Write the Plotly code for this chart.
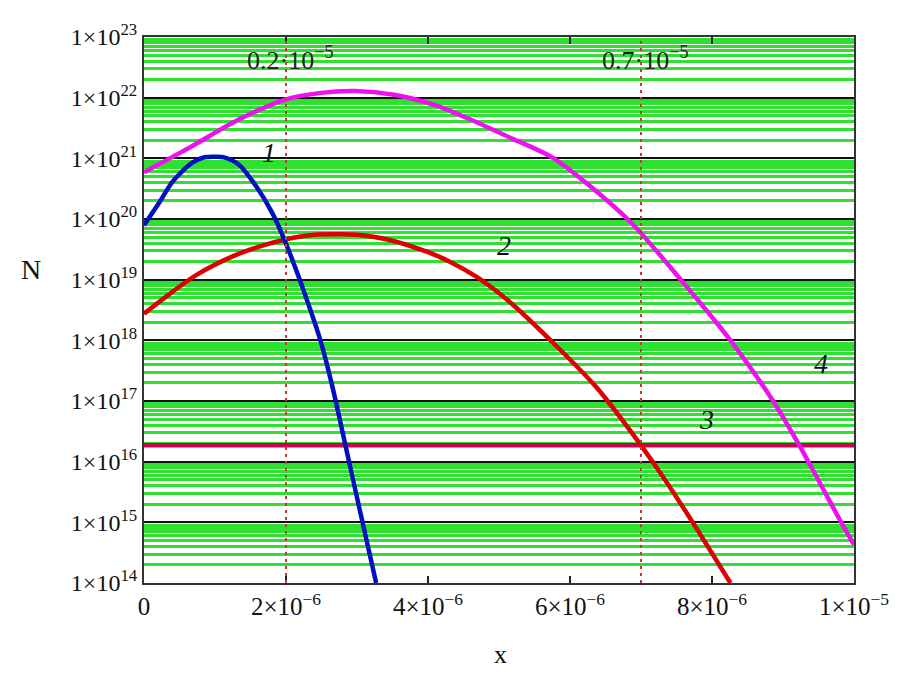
import math
import plotly.graph_objects as go

# ---- data ----
x1 = [0, 0.22e-6, 0.40e-6, 0.68e-6, 0.85e-6, 1.0e-6, 1.13e-6, 1.34e-6, 1.57e-6, 1.80e-6,
      1.99e-6, 2.27e-6, 2.49e-6, 2.66e-6, 2.84e-6, 3.05e-6, 3.27e-6]
n1 = [7.9e19, 1.9e20, 4.1e20, 8.5e20, 1.04e21, 1.06e21, 1.04e21, 7.8e20, 3.6e20, 1.3e20,
      4.2e19, 5.6e18, 9.5e17, 1.6e17, 1.8e16, 1.4e15, 1.0e14]

x2 = [0, 0.40e-6, 0.74e-6, 1.24e-6, 1.62e-6, 1.99e-6, 2.4e-6, 2.75e-6, 3.0e-6, 3.43e-6,
      3.98e-6, 4.3e-6, 4.68e-6, 5.14e-6, 5.84e-6, 6.35e-6, 6.53e-6, 7.0e-6, 7.33e-6,
      7.74e-6, 8.26e-6]
n2 = [2.75e18, 6.3e18, 1.2e19, 2.4e19, 3.5e19, 4.6e19, 5.5e19, 5.6e19, 5.5e19, 4.6e19,
      2.9e19, 2.0e19, 1.12e19, 4.4e18, 7.4e17, 1.8e17, 1.0e17, 1.86e16, 5.2e15,
      9.5e14, 1.0e14]

x3 = [0, 1.0e-5]
n3 = [1.86e16, 1.86e16]

x4 = [0, 0.64e-6, 1.34e-6, 1.99e-6, 2.49e-6, 2.97e-6, 3.52e-6, 4.12e-6, 4.59e-6, 5.19e-6,
      5.77e-6, 6.81e-6, 7.56e-6, 8.26e-6, 8.86e-6, 9.23e-6, 9.82e-6, 1.0e-5]
n4 = [5.9e20, 1.5e21, 4.4e21, 9.3e21, 1.2e22, 1.29e22, 1.12e22, 7.4e21, 4.4e21, 2.1e21,
      1.0e21, 1.0e20, 1.0e19, 1.0e18, 1.0e17, 1.86e16, 1.0e15, 4.3e14]

marker_x = [2e-6, 7e-6]
marker_labels = ["0.2·10<sup>−5</sup>", "0.7·10<sup>−5</sup>"]
marker_label_n = 4.4e22

x_tickvals = [0, 2e-6, 4e-6, 6e-6, 8e-6, 1e-5]
x_ticktext = ["0", "2×10<sup>−6</sup>", "4×10<sup>−6</sup>", "6×10<sup>−6</sup>",
              "8×10<sup>−6</sup>", "1×10<sup>−5</sup>"]
y_exponents = list(range(14, 24))
y_tickvals = [10.0 ** e for e in y_exponents]
y_ticktext = ["1×10<sup>%d</sup>" % e for e in y_exponents]
minor_vals = [k * 10.0 ** e for e in range(14, 23) for k in range(2, 10)]

curve_labels = ["1", "2", "3", "4"]
curve_label_x = [1.755e-6, 5.07e-6, 7.92e-6, 9.53e-6]
curve_label_n = [1.26e21, 3.7e19, 5.0e16, 4.1e17]

# ---- figure ----
FONT = "Liberation Serif"
W, H = 893, 663
ML, MR, MT, MB = 136, 39, 26, 88
PW, PH = W - ML - MR, H - MT - MB

fig = go.Figure()
common = dict(mode="lines", showlegend=False, line_shape="spline")
fig.add_trace(go.Scatter(x=x3, y=n3, line=dict(color="#cc0050", width=4.5), mode="lines",
                         showlegend=False))
fig.add_trace(go.Scatter(x=x2, y=n2, line=dict(color="#dd0000", width=4.5, smoothing=0.8), **common))
fig.add_trace(go.Scatter(x=x1, y=n1, line=dict(color="#0010c0", width=4.5, smoothing=0.8), **common))
fig.add_trace(go.Scatter(x=x4, y=n4, line=dict(color="#ee10ee", width=4.5, smoothing=0.8), **common))

for mx, ml in zip(marker_x, marker_labels):
    fig.add_shape(type="line", xref="x", yref="paper", x0=mx, x1=mx, y0=0, y1=1,
                  line=dict(color="#c03a3a", width=2, dash="3px,4px"), layer="above")
    fig.add_annotation(x=mx, y=math.log10(marker_label_n), xref="x", yref="y",
                       xanchor="center", yanchor="middle", xshift=4,
                       text=ml, showarrow=False,
                       font=dict(family=FONT, size=26, color="#222"))

for t, lx, ly in zip(curve_labels, curve_label_x, curve_label_n):
    fig.add_annotation(x=lx, y=math.log10(ly), xref="x", yref="y", text="<i>%s</i>" % t,
                       showarrow=False, font=dict(family=FONT, size=28, color="#111"))

# axis titles
fig.add_annotation(x=(22 - ML) / PW, y=1 - (260 - MT) / PH, xref="paper", yref="paper",
                   text="N", showarrow=False, xanchor="center", yanchor="middle",
                   font=dict(family=FONT, size=28, color="#111"))
fig.add_annotation(x=(497 - ML) / PW, y=1 - (H - MT) / PH, xref="paper", yref="paper",
                   text="x", showarrow=False, xanchor="center", yanchor="bottom",
                   font=dict(family=FONT, size=26, color="#111"))

fig.update_layout(
    width=W, height=H,
    margin=dict(l=ML, r=MR, t=MT, b=MB),
    paper_bgcolor="white", plot_bgcolor="white",
    font=dict(family=FONT, size=25, color="#111"),
    showlegend=False,
)

fig.update_xaxes(
    range=[0, 1e-5], tickmode="array", tickvals=x_tickvals, ticktext=x_ticktext,
    showgrid=False, zeroline=False,
    showline=True, linecolor="#333", linewidth=2, mirror="ticks",
    ticks="inside", ticklen=7, tickwidth=2, tickcolor="#222",
    tickfont=dict(family=FONT, size=25, color="#111"),
)

fig.update_yaxes(
    type="log", range=[14, 23], tickmode="array", tickvals=y_tickvals, ticktext=y_ticktext,
    showgrid=True, gridcolor="#111", gridwidth=2,
    minor=dict(tickmode="array", tickvals=minor_vals, showgrid=True,
               gridcolor="#30e030", gridwidth=2.5, ticks=""),
    zeroline=False, showline=True, linecolor="#333", linewidth=2, mirror=True,
    ticks="", tickfont=dict(family=FONT, size=24, color="#111"),
)

fig.write_html("out.html")
